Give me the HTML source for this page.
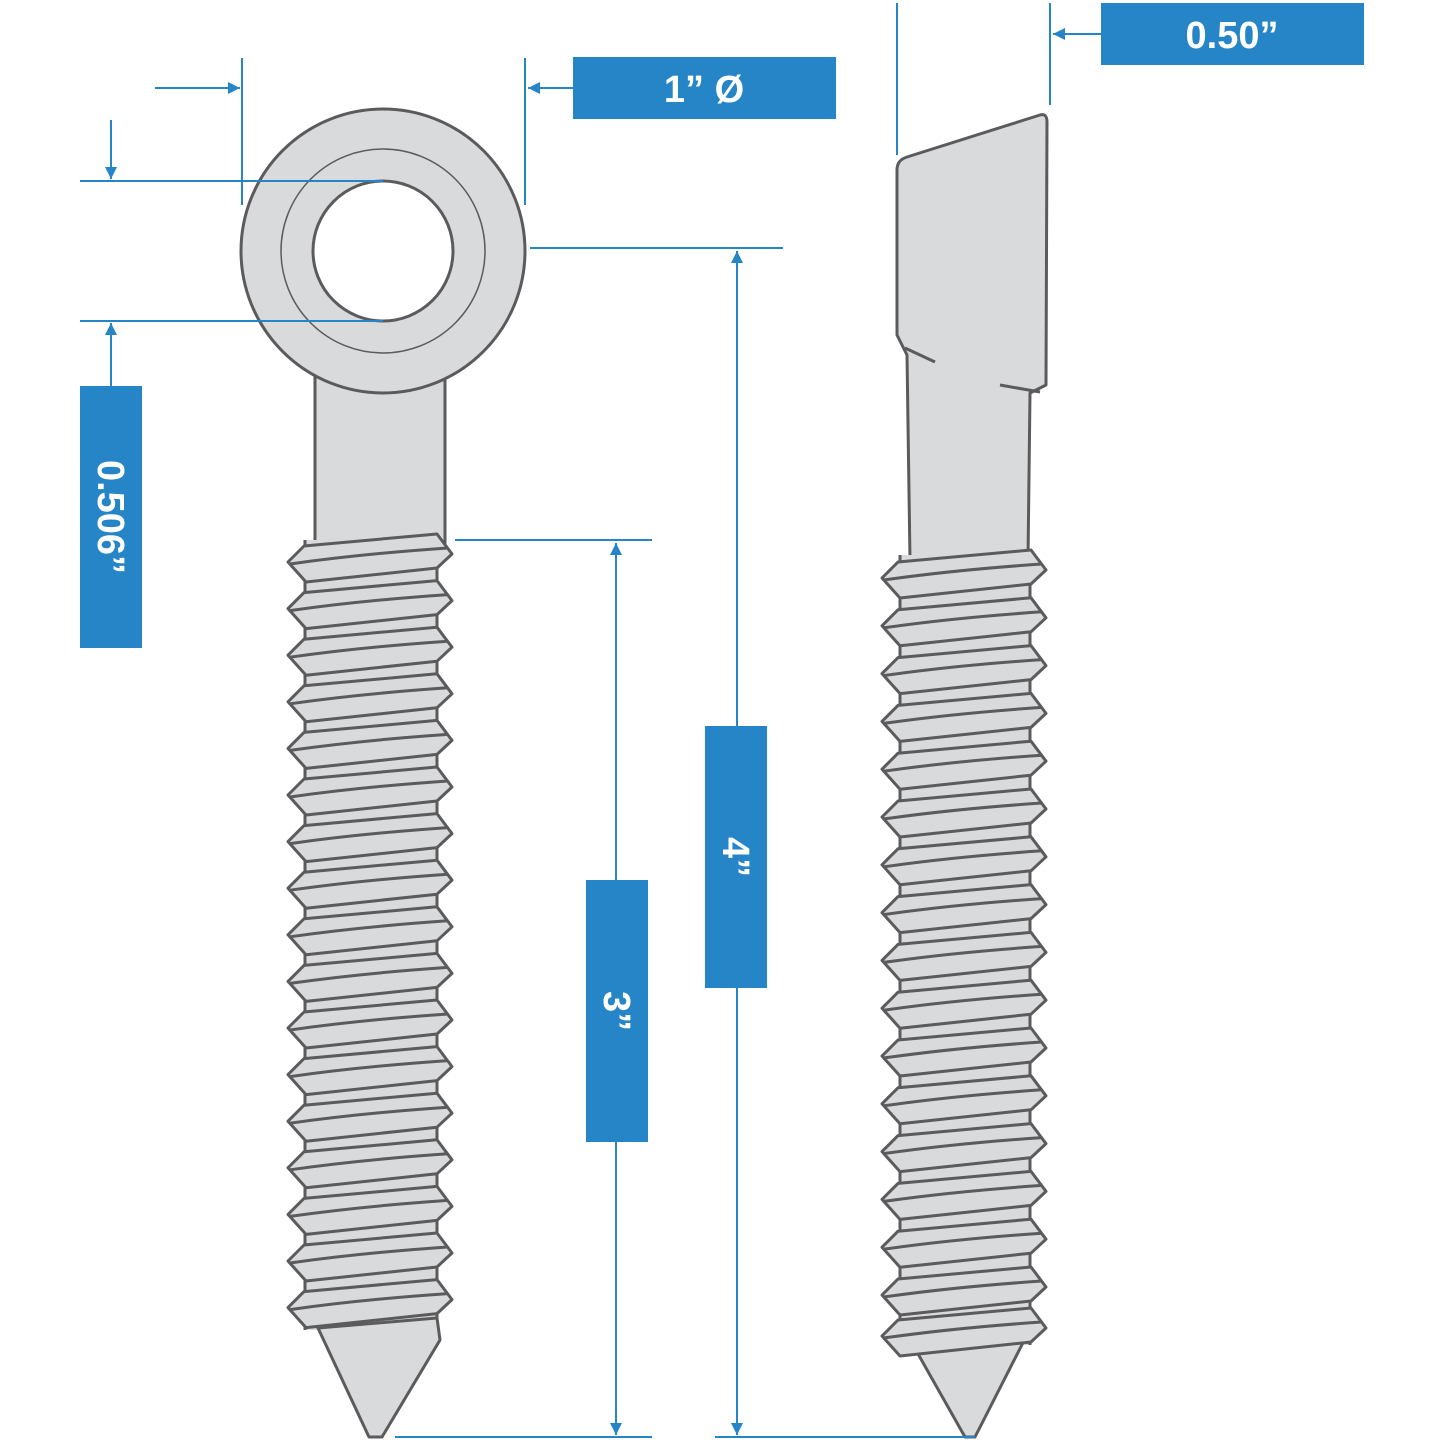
<!DOCTYPE html>
<html><head><meta charset="utf-8"><style>
html,body{margin:0;padding:0;background:#fff;}
svg{display:block}
text{font-family:"Liberation Sans",sans-serif;font-weight:bold;fill:#fff;font-size:38px}
</style></head><body>
<svg width="1445" height="1445" viewBox="0 0 1445 1445" xmlns="http://www.w3.org/2000/svg">
<defs>
<g id="th">
<path d="M288,0 L304,-16 L437,-28 L452,-8 L437,6 L306,20 Z" fill="#d9dadc" stroke="#5b5b5d" stroke-width="3" stroke-linejoin="round"/>
<path d="M290,2 Q360,-8 448,-14" fill="none" stroke="#5b5b5d" stroke-width="3"/>
</g>
<marker id="ar" viewBox="0 0 10 10" refX="10" refY="5" markerWidth="7" markerHeight="6" orient="auto-start-reverse"><path d="M0,0 L10,5 L0,10 z" fill="#2585c6"/></marker>
</defs>
<g fill="#d9dadc" stroke="#5b5b5d" stroke-width="3" stroke-linejoin="round">
<rect x="315" y="360" width="130" height="190"/>
<circle cx="383" cy="251" r="142"/>
<circle cx="383" cy="251" r="102" fill="none" stroke-width="1.5"/>
<circle cx="383" cy="251" r="70" fill="#fff"/>
<rect x="305" y="540" width="132" height="790" stroke="none"/>
<path d="M305,540 V1330 M437,540 V1330" fill="none"/>
<path d="M318,1328 L437,1318 L440,1340 L382,1437 L369,1437 Z"/>
<path d="M897,170 Q897,160 907,157 L1040,115 Q1047,113 1047,122 L1046,385 L1030,393 L1028,560 L910,560 L907,355 L897,335 Z"/>
<path d="M905,348 L935,362 M1000,385 L1040,392" fill="none"/>
<rect x="900" y="555" width="130" height="790" stroke="none"/>
<path d="M900,555 V1345 M1030,555 V1345" fill="none"/>
<path d="M913,1345 L1032,1325 L975,1437 L965,1437 Z"/>
</g>
<g>
<use href="#th" y="562"/><use href="#th" y="608.6"/><use href="#th" y="655.2"/><use href="#th" y="701.8"/><use href="#th" y="748.4"/><use href="#th" y="795"/><use href="#th" y="841.6"/><use href="#th" y="888.2"/><use href="#th" y="934.8"/><use href="#th" y="981.4"/><use href="#th" y="1028"/><use href="#th" y="1074.6"/><use href="#th" y="1121.2"/><use href="#th" y="1167.8"/><use href="#th" y="1214.4"/><use href="#th" y="1261"/><use href="#th" y="1307.6"/>
</g>
<g transform="translate(594,0)">
<use href="#th" y="578"/><use href="#th" y="625.8"/><use href="#th" y="673.6"/><use href="#th" y="721.4"/><use href="#th" y="769.2"/><use href="#th" y="817"/><use href="#th" y="864.8"/><use href="#th" y="912.6"/><use href="#th" y="960.4"/><use href="#th" y="1008.2"/><use href="#th" y="1056"/><use href="#th" y="1103.8"/><use href="#th" y="1151.6"/><use href="#th" y="1199.4"/><use href="#th" y="1247.2"/><use href="#th" y="1295"/><use href="#th" y="1336"/>
</g>
<g stroke="#2585c6" stroke-width="2" fill="none">
<path d="M242,58 V205 M525,58 V205"/>
<path d="M155,88 H240" marker-end="url(#ar)"/>
<path d="M573,88 H528" marker-end="url(#ar)"/>
<path d="M80,181 H383 M80,321 H383"/>
<path d="M111,120 V179" marker-end="url(#ar)"/>
<path d="M111,386 V323" marker-end="url(#ar)"/>
<path d="M897,3 V155 M1050,3 V105"/>
<path d="M1101,34 H1053" marker-end="url(#ar)"/>
<path d="M530,248 H783 M455,540 H652 M395,1437 H652 M715,1437 H975"/>
<path d="M737,726 V251" marker-end="url(#ar)"/>
<path d="M737,988 V1435" marker-end="url(#ar)"/>
<path d="M616,880 V543" marker-end="url(#ar)"/>
<path d="M616,1142 V1435" marker-end="url(#ar)"/>
</g>
<g fill="#2585c6">
<rect x="573" y="57" width="263" height="62"/>
<rect x="1101" y="3" width="263" height="62"/>
<rect x="80" y="386" width="62" height="262"/>
<rect x="586" y="880" width="62" height="262"/>
<rect x="705" y="726" width="62" height="262"/>
</g>
<text x="704" y="102" text-anchor="middle">1” Ø</text>
<text x="1232" y="48" text-anchor="middle">0.50”</text>
<text transform="translate(98,517) rotate(90)" text-anchor="middle">0.506”</text>
<text transform="translate(604,1011) rotate(90)" text-anchor="middle">3”</text>
<text transform="translate(723,857) rotate(90)" text-anchor="middle">4”</text>
</svg>
</body></html>
